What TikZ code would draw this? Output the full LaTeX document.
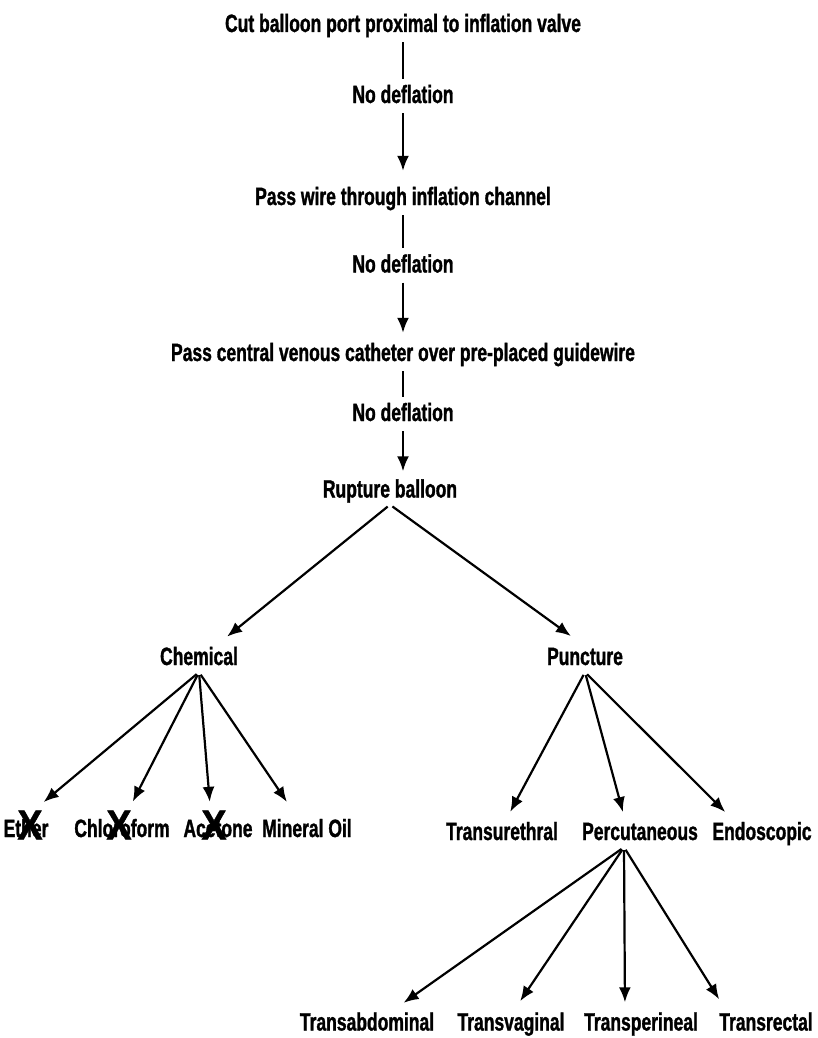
\documentclass[tikz,border=0pt]{standalone}
\usepackage{fontspec}
\usepackage{xcolor}
\usetikzlibrary{arrows.meta}
\newfontfamily\chartfont{Liberation Sans}[FakeStretch=0.70, BoldFeatures={FakeBold=1.2}]
\newfontfamily\crossfont{Liberation Sans}[FakeStretch=0.90, BoldFeatures={FakeBold=1.2}]
\tikzstyle{stage}=[font={\chartfont\bfseries\fontsize{25}{27}\selectfont}, inner sep=2pt, text height=18pt, text depth=5pt]
\tikzstyle{crossout}=[font={\crossfont\bfseries\fontsize{42}{42}\selectfont}, inner sep=0pt]
\tikzset{flow/.style={line width=2.2pt, shorten <=3pt, shorten >=4pt}}
\tikzset{arrowed/.style={flow, -{Latex[length=15pt,width=12pt]}}}

\begin{document}
\begin{tikzpicture}[x=1pt,y=-1pt]
  \useasboundingbox (0,0) rectangle (817,1038);
  %% Main chain
  \draw (403,25.5) node[stage] (cut) {Cut balloon port proximal to inflation valve};
  \draw (403,96.5) node[stage] (nd1) {No deflation};
  \draw (403,198.5) node[stage] (wire) {Pass wire through inflation channel};
  \draw (403,266) node[stage] (nd2) {No deflation};
  \draw (403,354.5) node[stage] (cvc) {Pass central venous catheter over pre-placed guidewire};
  \draw (403,414.5) node[stage] (nd3) {No deflation};
  \draw (390,491) node[stage] (rup) {Rupture balloon};

  \draw[flow] (cut) -- (nd1);
  \draw[arrowed, shorten >=14pt] (nd1) -- (wire);
  \draw[flow] (wire) -- (nd2);
  \draw[arrowed, shorten >=8pt] (nd2) -- (cvc);
  \draw[flow] (cvc) -- (nd3);
  \draw[arrowed, shorten >=6pt] (nd3) -- (nd3 |- rup.north);

  %% Two ways
  \draw (199,658.5) node[stage] (chem) {Chemical};
  \draw (585,658.5) node[stage] (punc) {Puncture};
  \draw[arrowed, shorten >=13pt] (rup.south) -- ([xshift=18pt]chem.north);
  \draw[arrowed, shorten >=15pt] (rup.south) -- ([xshift=-2pt]punc.north);

  %% Chemical agents
  \draw (26,830.5) node[stage] (ether) {Ether};
  \draw (122,830.5) node[stage] (chloro) {Chloroform};
  \draw (218,830.5) node[stage] (acet) {Acetone};
  \draw (307,830.5) node[stage] (oil) {Mineral Oil};
  \draw ([xshift=4pt,yshift=5.5pt]ether.center) node[crossout] {X};
  \draw ([xshift=-3pt,yshift=5.5pt]chloro.center) node[crossout] {X};
  \draw ([xshift=-4pt,yshift=5.5pt]acet.center) node[crossout] {X};

  \draw[arrowed, shorten >=23pt] (chem.south) -- (ether.north);
  \draw[arrowed, shorten >=17pt] (chem.south) -- ([xshift=3pt]chloro.north);
  \draw[arrowed, shorten >=15pt] (chem.south) -- ([xshift=-7pt]acet.north);
  \draw[arrowed, shorten >=18pt] (chem.south) -- ([xshift=-10pt]oil.north);

  %% Puncture routes
  \draw (502,833.5) node[stage] (uret) {Transurethral};
  \draw (640,833.5) node[stage] (percu) {Percutaneous};
  \draw (762,833.5) node[stage] (endo) {Endoscopic};

  \draw[arrowed, shorten >=9pt] (punc.south) -- ([xshift=4pt]uret.north);
  \draw[arrowed, shorten >=8pt] (punc.south) -- ([xshift=-15pt]percu.north);
  \draw[arrowed, shorten >=11pt] (punc.south) -- ([xshift=-29pt]endo.north);

  %% Percutaneous access
  \draw (367,1024) node[stage] (abd) {Transabdominal};
  \draw (511,1024) node[stage] (vag) {Transvaginal};
  \draw (641,1024) node[stage] (peri) {Transperineal};
  \draw (766,1024) node[stage] (rect) {Transrectal};

  \draw[arrowed, shorten >=13pt] ([xshift=-16pt]percu.south) -- ([xshift=26pt]abd.north);
  \draw[arrowed, shorten >=11pt] ([xshift=-16pt]percu.south) -- ([xshift=3pt]vag.north);
  \draw[arrowed, shorten >=8pt] ([xshift=-16pt]percu.south) -- ([xshift=-16pt]peri.north);
  \draw[arrowed, shorten >=13pt] ([xshift=-16pt]percu.south) -- ([xshift=-40pt]rect.north);
\end{tikzpicture}
\end{document}
